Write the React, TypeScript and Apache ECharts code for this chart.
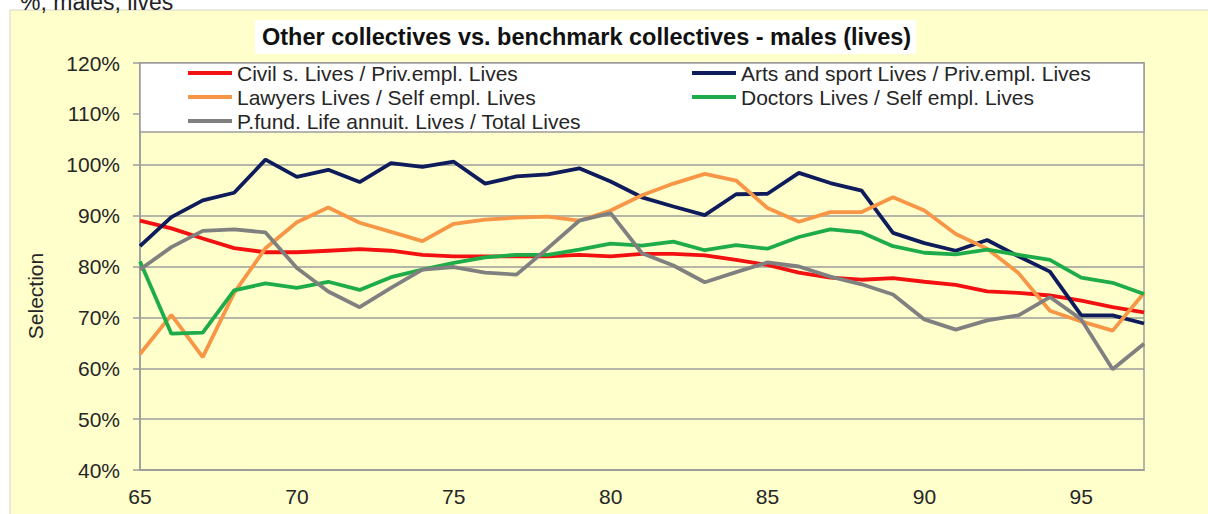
import React, { useEffect, useRef } from "react";
import * as echarts from "echarts";

const ages = [65, 66, 67, 68, 69, 70, 71, 72, 73, 74, 75, 76, 77, 78, 79, 80, 81, 82, 83, 84, 85, 86, 87, 88, 89, 90, 91, 92, 93, 94, 95, 96, 97];

const civil = [89, 87.5, 85.5, 83.6, 82.8, 82.8, 83.1, 83.4, 83.1, 82.3, 82, 82, 82, 82, 82.3, 82, 82.5, 82.5, 82.2, 81.3, 80.3, 78.8, 77.8, 77.4, 77.7, 77, 76.4, 75.1, 74.8, 74.3, 73.3, 72, 71];
const arts = [84, 89.7, 93, 94.5, 101, 97.6, 99, 96.6, 100.3, 99.6, 100.6, 96.3, 97.7, 98.1, 99.3, 96.7, 93.6, 91.8, 90.1, 94.2, 94.3, 98.4, 96.4, 94.9, 86.6, 84.6, 83.1, 85.2, 82, 79, 70.4, 70.4, 68.8];
const lawyers = [62.8, 70.5, 62.2, 74.8, 83.6, 88.7, 91.6, 88.6, 86.8, 85, 88.4, 89.2, 89.6, 89.8, 89, 91, 94, 96.3, 98.2, 96.9, 91.5, 88.8, 90.7, 90.7, 93.6, 91, 86.4, 83.5, 78.7, 71.3, 69.2, 67.4, 74.8];
const doctors = [81, 66.8, 67, 75.3, 76.7, 75.8, 77, 75.4, 77.9, 79.4, 80.7, 81.8, 82.3, 82.3, 83.3, 84.5, 84.1, 84.9, 83.2, 84.2, 83.5, 85.8, 87.3, 86.7, 84, 82.7, 82.4, 83.3, 82.3, 81.3, 77.8, 76.8, 74.6];
const pfund = [79.4, 83.8, 87, 87.3, 86.7, 79.7, 75.1, 72, 75.8, 79.4, 79.9, 78.8, 78.4, 83.6, 89, 90.5, 82.6, 80.2, 76.9, 78.9, 80.8, 80, 78, 76.5, 74.5, 69.6, 67.6, 69.4, 70.4, 74, 69.6, 59.8, 64.8];

const seriesNames = [
  "Civil s. Lives / Priv.empl. Lives",
  "Arts and sport Lives / Priv.empl. Lives",
  "Lawyers Lives / Self empl. Lives",
  "Doctors Lives / Self empl. Lives",
  "P.fund. Life annuit. Lives / Total Lives",
];
const seriesValues = [civil, arts, lawyers, doctors, pfund];
const seriesColors = ["#F21010", "#0E1C5C", "#F79646", "#1EAC4B", "#808080"];

const titleText = "Other collectives vs. benchmark collectives - males (lives)";
const topText = "%, males, lives";
const yAxisTitle = "Selection";

// legend layout (left, top)
const legendPos = [
  [188, 62],
  [692, 62],
  [188, 86],
  [692, 86],
  [188, 110],
];

const FONT = "Liberation Sans, Arial, sans-serif";
const GRAY = "#9c9c9c";
const TXT = "#262626";

export default function App() {
  const ref = useRef<HTMLDivElement>(null);
  useEffect(() => {
    if (!ref.current) return;
    const chart = echarts.init(ref.current, null, { renderer: "svg" });
    const option: any = {
      animation: false,
      textStyle: { fontFamily: FONT },
      title: {
        text: titleText,
        left: 255,
        top: 20,
        padding: [4, 5, 4, 7],
        backgroundColor: "#ffffff",
        textStyle: { fontSize: 23.5, fontWeight: "bold", color: "#111", fontFamily: FONT, lineHeight: 26 },
      },
      graphic: [
        {
          type: "rect",
          z: -10,
          shape: { x: 10, y: 10, width: 1210, height: 520 },
          style: { fill: "#FFFFCC", stroke: "#d6d6c8", lineWidth: 1 },
        },
        {
          type: "text",
          z: 10,
          x: 20,
          y: 13,
          style: { text: topText, fontSize: 23, fill: "#222", fontFamily: FONT, verticalAlign: "bottom" },
        },
        {
          type: "rect",
          z: 1,
          shape: { x: 140, y: 63, width: 1004, height: 69 },
          style: { fill: "#ffffff", stroke: GRAY, lineWidth: 1.5 },
        },
        {
          type: "text",
          z: 10,
          x: 35,
          y: 296,
          rotation: Math.PI / 2,
          style: { text: yAxisTitle, fontSize: 21, fill: TXT, fontFamily: FONT, align: "center", verticalAlign: "middle" },
        },
      ],
      legend: seriesNames.map((n, i) => ({
        data: [n],
        left: legendPos[i][0],
        top: legendPos[i][1],
        padding: 0,
        icon: "rect",
        itemWidth: 44,
        itemHeight: 4,
        selectedMode: false,
        textStyle: { fontSize: 21, color: TXT, fontFamily: FONT, lineHeight: 22 },
      })),
      grid: {
        left: 140,
        right: 64,
        top: 63,
        bottom: 44,
        show: true,
        borderColor: GRAY,
        borderWidth: 1.5,
        backgroundColor: "transparent",
      },
      xAxis: {
        type: "value",
        min: 65,
        max: 97,
        interval: 5,
        axisLine: { show: true, lineStyle: { color: GRAY, width: 1.5 } },
        axisTick: { show: false },
        splitLine: { show: false },
        axisLabel: { fontSize: 21, color: TXT, margin: 16, fontFamily: FONT, showMaxLabel: false },
      },
      yAxis: {
        type: "value",
        min: 40,
        max: 120,
        interval: 10,
        axisLine: { show: true, lineStyle: { color: GRAY, width: 1.5 } },
        axisTick: { show: true, length: 7, lineStyle: { color: GRAY, width: 1.5 } },
        splitLine: { show: true, lineStyle: { color: GRAY, width: 1.5 } },
        axisLabel: { fontSize: 21, color: TXT, margin: 20, formatter: "{value}%", fontFamily: FONT },
      },
      series: seriesNames.map((n, i) => ({
        name: n,
        type: "line",
        symbol: "none",
        smooth: false,
        color: seriesColors[i],
        lineStyle: { width: 3.8, color: seriesColors[i] },
        data: ages.map((a, j) => [a, seriesValues[i][j]]),
      })),
    };
    chart.setOption(option);
    return () => chart.dispose();
  }, []);
  return (
    <div
      ref={ref}
      style={{ position: "fixed", left: 0, top: 0, width: 1208, height: 514, background: "#ffffff" }}
    />
  );
}
